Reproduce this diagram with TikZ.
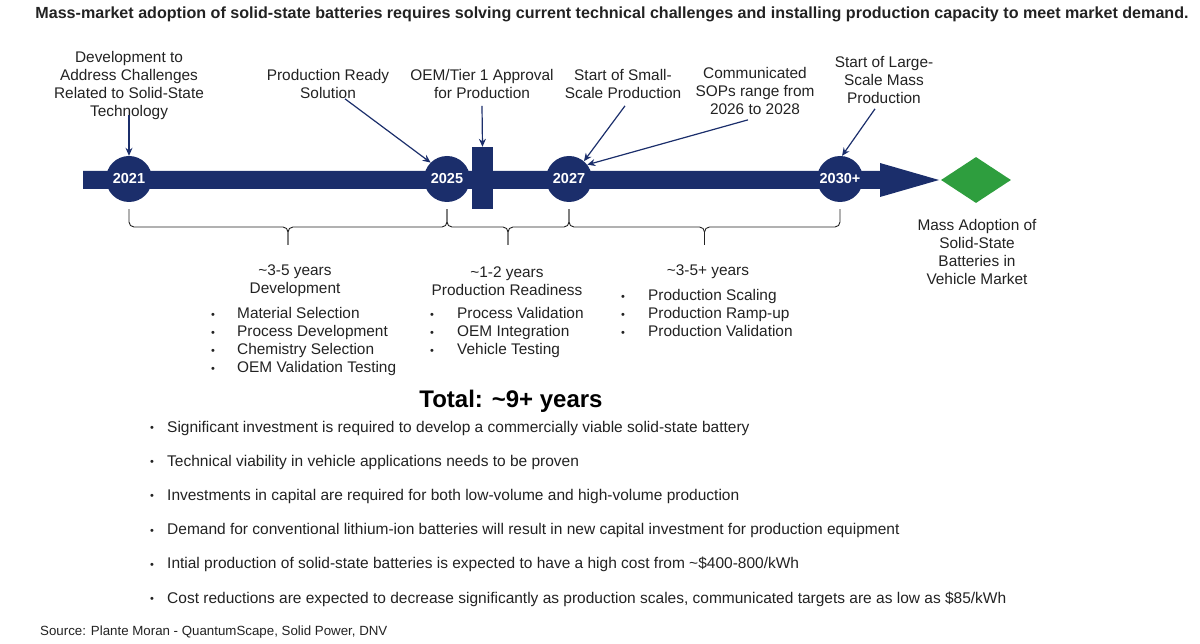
\documentclass[tikz,border=0pt]{standalone}
\usepackage{fontspec}
\setmainfont{Liberation Sans}
\usetikzlibrary{arrows.meta,shapes.geometric,calc}
\definecolor{navy}{HTML}{1B2E6B}
\definecolor{leafgreen}{HTML}{2E9E3E}
\definecolor{inkgray}{HTML}{222222}
\newcommand{\dotmark}[1]{\makebox[#1][l]{\raisebox{0.5pt}{\fontsize{11}{11}\selectfont\textbullet}}}
\tikzset{
    call_arrow/.style={-{Stealth[length=8pt,width=7pt]}, line width=1.2pt, draw=navy},
    year_dot/.style={circle, fill=navy, minimum size=46pt, inner sep=0pt, text=white, font=\bfseries\fontsize{14.5}{16}\selectfont},
    lbl/.style={align=center, inner sep=0pt, text=inkgray, font=\fontsize{15.4}{18}\selectfont},
    list_item/.style={anchor=base west, inner sep=0pt, text=inkgray, font=\fontsize{15.4}{18}\selectfont},
    fact_item/.style={anchor=base west, inner sep=0pt, text=inkgray, font=\fontsize{15.5}{17}\selectfont},
    span_brace/.style={draw=inkgray, line width=0.9pt, rounded corners=5pt}
}

\begin{document}
\begin{tikzpicture}[x=1pt, y=-1pt]
\useasboundingbox (0,0) rectangle (1200,644);

\node[font=\bfseries\fontsize{16.1}{18}\selectfont, text=inkgray, inner sep=0pt] (title) at (612,14)
    {Mass-market adoption of solid-state batteries requires solving current technical challenges and installing production capacity to meet market demand.};

% timeline bar
\fill[navy] (83,171) -- (880,171) -- (880,163) -- (939,180) -- (880,197) -- (880,189) -- (83,189) -- cycle;

\node[year_dot] (c2021) at (129,179) {2021};
\node[year_dot] (c2025) at (447,179) {2025};
\node[year_dot] (c2027) at (569,179) {2027};
\node[year_dot] (c2030) at (840,179) {2030+};
\node[fill=navy, minimum width=21pt, minimum height=62pt, inner sep=0pt] (gate) at (482.5,178) {};
\node[diamond, fill=leafgreen, minimum width=70pt, minimum height=46pt, inner sep=0pt] (goal) at (976,180) {};

% milestones above
\node[lbl] (lbl_dev)   at (129,86) {Development to\\Address Challenges\\Related to Solid-State\\Technology};
\node[lbl] (lbl_ready) at (328,84) {Production Ready\\Solution};
\node[lbl] (lbl_oem)   at (482,84) {OEM/Tier 1 Approval\\for Production};
\node[lbl] (lbl_small) at (623,84) {Start of Small-\\Scale Production};
\node[lbl] (lbl_comm)  at (755,91) {Communicated\\SOPs range from\\2026 to 2028};
\node[lbl] (lbl_large) at (884,80) {Start of Large-\\Scale Mass\\Production};
\node[lbl] (lbl_goal)  at (977,252) {Mass Adoption of\\Solid-State\\Batteries in\\Vehicle Market};

\draw[call_arrow] ([yshift=5pt]lbl_dev.south) -- (c2021.north);
\draw[call_arrow] ([xshift=17pt]lbl_ready.south) -- (c2025.135);
\draw[call_arrow] ([yshift=-7pt]lbl_oem.south) -- (gate.north);
\draw[call_arrow] ([xshift=2pt,yshift=-7pt]lbl_small.south) -- (c2027.50);
\draw[call_arrow] ([xshift=-7pt,yshift=-5pt]lbl_comm.south) -- (c2027.38);
\draw[call_arrow] ([xshift=-9pt,yshift=-5pt]lbl_large.south) -- (c2030.85);

% braces under the phases
\draw[span_brace] ([yshift=-7pt]c2021.south) |- ($(c2021)!0.5!(c2025)+(0,48)$) -- ++(0,18);
\draw[span_brace] ([yshift=-7pt]c2025.south) |- ($(c2021)!0.5!(c2025)+(0,48)$) -- ++(0,18);
\draw[span_brace] ([yshift=-7pt]c2025.south) |- ($(c2025)!0.5!(c2027)+(0,48)$) -- ++(0,18);
\draw[span_brace] ([yshift=-7pt]c2027.south) |- ($(c2025)!0.5!(c2027)+(0,48)$) -- ++(0,18);
\draw[span_brace] ([yshift=-7pt]c2027.south) |- ($(c2027)!0.5!(c2030)+(0,48)$) -- ++(0,18);
\draw[span_brace] ([yshift=-7pt]c2030.south) |- ($(c2027)!0.5!(c2030)+(0,48)$) -- ++(0,18);

\node[lbl] (phase_dev)   at (295,281) {\textasciitilde3-5 years\\Development};
\node[lbl] (phase_ready) at (507,281) {\textasciitilde1-2 years\\Production Readiness};
\node[lbl, anchor=base] (phase_scale) at (708,276) {\textasciitilde3-5+ years};

\foreach \txt [count=\k] in {Material Selection, Process Development, Chemistry Selection, OEM Validation Testing} {
    \node[list_item] (dev\k) at (211,301+18*\k) {\dotmark{26pt}\txt};
}
\foreach \txt [count=\k] in {Process Validation, OEM Integration, Vehicle Testing} {
    \node[list_item] (rdy\k) at (430,301+18*\k) {\dotmark{27pt}\txt};
}
\foreach \txt [count=\k] in {Production Scaling, Production Ramp-up, Production Validation} {
    \node[list_item] (scl\k) at (621,283+18*\k) {\dotmark{27pt}\txt};
}

\node[font=\bfseries\fontsize{24}{28}\selectfont, text=black, inner sep=0pt, anchor=base] (total) at (511,407)
    {Total: \textasciitilde9+ years};

\foreach \txt [count=\k] in {
    Significant investment is required to develop a commercially viable solid-state battery,
    Technical viability in vehicle applications needs to be proven,
    Investments in capital are required for both low-volume and high-volume production,
    Demand for conventional lithium-ion batteries will result in new capital investment for production equipment,
    Intial production of solid-state batteries is expected to have a high cost from \textasciitilde\$400-800/kWh,
    {Cost reductions are expected to decrease significantly as production scales, communicated targets are as low as \$85/kWh}} {
    \node[fact_item] (fact\k) at (150,397.8+34.2*\k) {\dotmark{17pt}\txt};
}

\node[anchor=base west, inner sep=0pt, text=inkgray, font=\fontsize{13.3}{15}\selectfont] (source) at (40,635)
    {Source: Plante Moran - QuantumScape, Solid Power, DNV};
\end{tikzpicture}
\end{document}
